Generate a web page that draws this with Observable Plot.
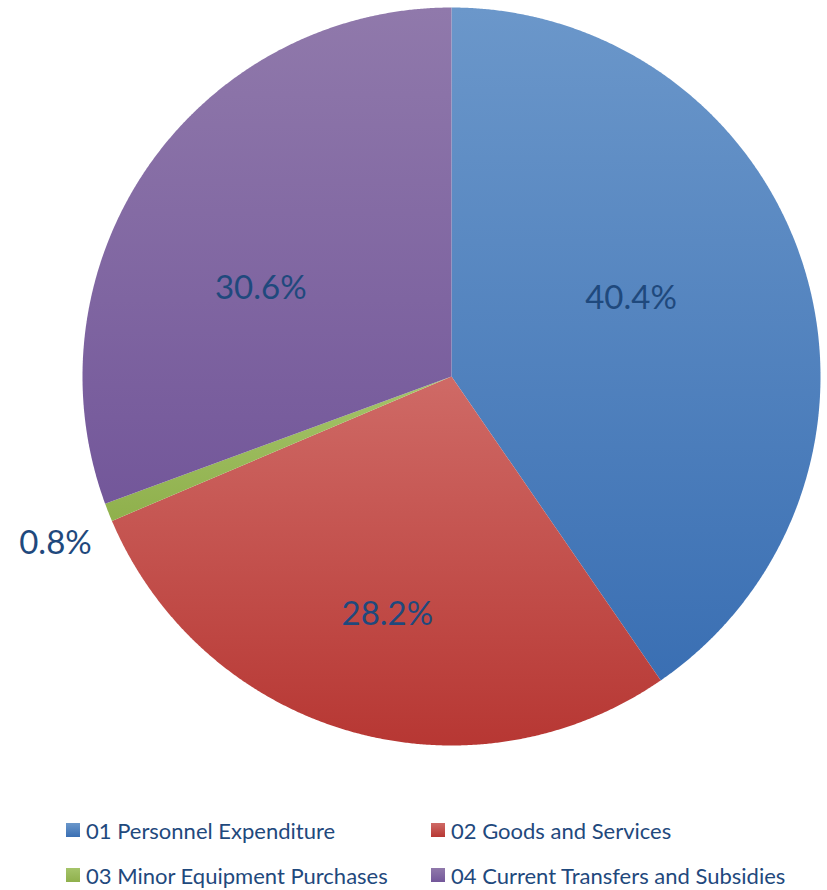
<!DOCTYPE html>
<html>
<head>
<meta charset="utf-8">
<script src="https://cdn.jsdelivr.net/npm/d3@7"></script>
<script src="https://cdn.jsdelivr.net/npm/@observablehq/plot@0.6"></script>
<style>
  html, body { margin: 0; padding: 0; background: #fff; }
  #chart { width: 827px; }
  .legend { position: relative; width: 827px; height: 100px; font-family: Lato, "Open Sans", sans-serif; font-size: 22px; color: #1f497d; }
  .legend .item { position: absolute; display: flex; align-items: center; white-space: nowrap; }
  .legend .sw { width: 14px; height: 14px; margin-right: 6px; }
</style>
</head>
<body>
<div id="chart"></div>
<div class="legend" id="legend"></div>
<script>
// ---- data ----
const categories = ["01 Personnel Expenditure", "02 Goods and Services", "03 Minor Equipment Purchases", "04 Current Transfers and Subsidies"];
const shares = [40.4, 28.2, 0.8, 30.6];
const labels = ["40.4%", "28.2%", "0.8%", "30.6%"];

// ---- styles / layout (not data) ----
const gradTop = ["#6b97ca", "#cf6a66", "#a5c46a", "#9079ab"];
const gradBottom = ["#3a6fb3", "#b73733", "#8fb04c", "#73579a"];
// label placement: radius fraction and angle adjustment (degrees) from mid-angle
const labelRadius = [0.53, 0.667, 1.165, 0.569];
const labelAngleShift = [-6.1, -1.1, -1.3, -10.2];

const W = 827, H = 790;
const cx = 451, cy = 376, R = 369;

const pie = d3.pie().sort(null).value(d => d.value);
const arcs = pie(categories.map((c, i) => ({key: c, value: shares[i], i})));

// Build slice polygons in unit coordinates (angle 0 at top, clockwise)
function slicePoints(a) {
  const pts = [{x: 0, y: 0}];
  const n = Math.max(2, Math.ceil((a.endAngle - a.startAngle) / (Math.PI / 720)));
  for (let k = 0; k <= n; k++) {
    const t = a.startAngle + (a.endAngle - a.startAngle) * k / n;
    pts.push({x: Math.sin(t), y: Math.cos(t)});
  }
  pts.push({x: 0, y: 0});
  return pts;
}

const sliceMarks = arcs.map((a, i) =>
  Plot.line(slicePoints(a), {x: "x", y: "y", fill: `url(#grad${i})`, stroke: "none", curve: "linear"})
);

const labelData = arcs.map((a, i) => {
  const mid = (a.startAngle + a.endAngle) / 2 + labelAngleShift[i] * Math.PI / 180;
  return {x: labelRadius[i] * Math.sin(mid), y: labelRadius[i] * Math.cos(mid), text: labels[a.data.i]};
});

const plot = Plot.plot({
  width: W,
  height: H,
  margin: 0,
  x: {domain: [-cx / R, (W - cx) / R], axis: null},
  y: {domain: [-(H - cy) / R, cy / R], axis: null},
  style: {background: "white"},
  marks: [
    ...sliceMarks,
    Plot.text(labelData, {x: "x", y: "y", text: "text", fill: "#1f497d", fontSize: 33, fontFamily: "Lato, 'Open Sans', sans-serif", textAnchor: "middle"})
  ]
});

// gradient defs
const svg = d3.select(plot);
const defs = svg.insert("defs", ":first-child");
gradTop.forEach((c, i) => {
  const g = defs.append("linearGradient").attr("id", `grad${i}`).attr("x1", 0).attr("y1", 0).attr("x2", 0).attr("y2", 1);
  g.append("stop").attr("offset", "0%").attr("stop-color", c);
  g.append("stop").attr("offset", "100%").attr("stop-color", gradBottom[i]);
});

document.getElementById("chart").appendChild(plot);

// legend
const legendPos = [[66, 40], [431, 40], [66, 85], [431, 85]];
const leg = document.getElementById("legend");
categories.forEach((c, i) => {
  const it = document.createElement("div");
  it.className = "item";
  it.style.left = legendPos[i][0] + "px";
  it.style.top = (legendPos[i][1] - 14) + "px";
  it.style.height = "28px";
  const sw = document.createElement("div");
  sw.className = "sw";
  sw.style.background = `linear-gradient(${gradTop[i]}, ${gradBottom[i]})`;
  const tx = document.createElement("span");
  tx.textContent = c;
  it.appendChild(sw); it.appendChild(tx);
  leg.appendChild(it);
});
</script>
</body>
</html>
